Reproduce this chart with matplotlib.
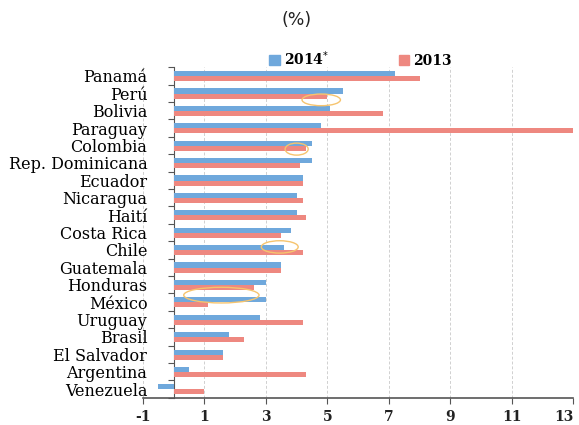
import matplotlib.pyplot as plt
from matplotlib.patches import Ellipse, Patch
import numpy as np

# data
countries = ["Panamá", "Perú", "Bolivia", "Paraguay", "Colombia", "Rep. Dominicana",
             "Ecuador", "Nicaragua", "Haití", "Costa Rica", "Chile", "Guatemala",
             "Honduras", "México", "Uruguay", "Brasil", "El Salvador", "Argentina",
             "Venezuela"]
g2014 = [7.2, 5.5, 5.1, 4.8, 4.5, 4.5, 4.2, 4.0, 4.0, 3.8, 3.6, 3.5,
         3.0, 3.0, 2.8, 1.8, 1.6, 0.5, -0.5]
g2013 = [8.0, 5.0, 6.8, 13.0, 4.3, 4.1, 4.2, 4.2, 4.3, 3.5, 4.2, 3.5,
         2.6, 1.1, 4.2, 2.3, 1.6, 4.3, 1.0]
xticks = [-1, 1, 3, 5, 7, 9, 11, 13]

# highlight circles: (x, y, width, height) in data units
highlights = [(4.8, 1.38, 1.25, 0.67), (4.0, 4.21, 0.75, 0.69),
              (3.45, 9.83, 1.2, 0.71), (1.55, 12.6, 2.45, 0.9)]

BLUE = "#6FA8DC"
RED = "#EE8880"
AXC = "#555555"

fig = plt.figure(figsize=(5.79, 4.25), dpi=100)
ax = fig.add_axes([0.247, 0.064, 0.743, 0.778])

y = np.arange(len(countries))
h = 0.29
ax.barh(y - h / 2 + 0.015, g2014, height=h, color=BLUE, linewidth=0, zorder=3)
ax.barh(y + h / 2 + 0.015, g2013, height=h, color=RED, linewidth=0, zorder=3)

for cx, cy, w, hh in highlights:
    ax.add_patch(Ellipse((cx, cy), w, hh, fill=False, edgecolor="#F6C46E", linewidth=1.0, zorder=4))

ax.set_xlim(-1, 13)
ax.set_ylim(len(countries) - 0.5, -0.5)
ax.set_xticks(xticks)
ax.set_xticklabels([str(v) for v in xticks], fontsize=10, family="DejaVu Serif",
                   fontweight="bold", color="#222222")
# last label sits on the figure edge; right-align it so it stays visible
ax.get_xticklabels()[-1].set_horizontalalignment("right")
ax.tick_params(axis="x", length=4, color=AXC, pad=5)
ax.grid(axis="x", linestyle=(0, (3, 2)), color="#D0D0D0", linewidth=0.7, zorder=0)

# left axis at x=0, ticks on category boundaries, labels at centers
ax.spines["left"].set_position(("data", 0))
ax.spines["left"].set_color(AXC)
ax.spines["bottom"].set_color(AXC)
ax.spines["bottom"].set_linewidth(1.2)
ax.spines["top"].set_visible(False)
ax.spines["right"].set_visible(False)
ax.set_yticks(np.arange(-0.5, len(countries), 1.0))
ax.set_yticklabels([])
ax.tick_params(axis="y", which="major", length=4, color=AXC)
ax.set_yticks(y, minor=True)
ax.set_yticklabels(countries, minor=True, fontsize=11.5, family="DejaVu Serif", color="#000000")
ax.tick_params(axis="y", which="minor", length=0, pad=19)

fig.text(0.513, 0.953, "(%)", ha="center", va="center", fontsize=12.5,
         family="DejaVu Sans", color="#222222")

handles = [Patch(color=BLUE), Patch(color=RED)]
fig.legend(handles, ["2014$^{*}$", "2013"], ncol=2, loc="center",
           bbox_to_anchor=(0.623, 0.862), frameon=False, handlelength=0.75,
           handleheight=0.75, handletextpad=0.3, columnspacing=5.0,
           prop={"family": "DejaVu Serif", "weight": "bold", "size": 10})

fig.savefig("out.png", dpi=100)
